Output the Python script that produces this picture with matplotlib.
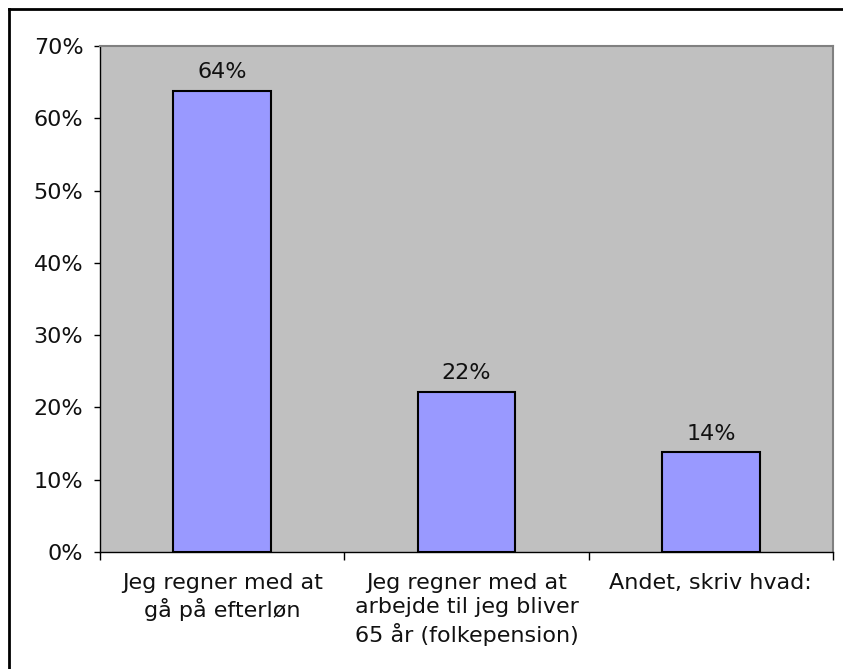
import matplotlib
matplotlib.use("Agg")
import matplotlib.pyplot as plt
from matplotlib.lines import Line2D

categories = ["Jeg regner med at\ngå på efterløn",
              "Jeg regner med at\narbejde til jeg bliver\n65 år (folkepension)",
              "Andet, skriv hvad:"]
values = [0.638, 0.222, 0.138]
labels = ["64%", "22%", "14%"]
yticks = [0, 0.1, 0.2, 0.3, 0.4, 0.5, 0.6, 0.7]
ytick_labels = ["0%", "10%", "20%", "30%", "40%", "50%", "60%", "70%"]

plt.rcParams['font.family'] = ['DejaVu Sans']
FS = 16
W, H = 843, 669
fig = plt.figure(figsize=(W / 100, H / 100), dpi=100)
ax = fig.add_axes([100 / W, 1 - 552 / H, 733 / W, 506 / H])
ax.set_facecolor("#C0C0C0")

x = list(range(len(categories)))
ax.bar(x, values, width=0.4, color="#9999FF", edgecolor="black", linewidth=1.5, zorder=3)
for xi, v, lab in zip(x, values, labels):
    ax.annotate(lab, (xi, v), xytext=(0, 6), textcoords="offset points",
                ha="center", va="bottom", fontsize=FS, color="#111111")

ax.set_xlim(-0.5, 2.5)
ax.set_ylim(0, 0.7)
ax.set_yticks(yticks)
ax.set_yticklabels(ytick_labels, fontsize=FS, color="#111111")
ax.set_xticks([-0.5, 0.5, 1.5, 2.5])
ax.set_xticklabels([])
ax.set_xticks(x, minor=True)
ax.set_xticklabels(categories, minor=True, fontsize=FS, linespacing=1.28, va="top", ha="center", color="#111111")
ax.tick_params(axis="x", which="minor", length=0, pad=15)
ax.tick_params(axis="x", which="major", length=6, width=1, color="black", direction="out")
ax.tick_params(axis="y", length=4, width=1, color="black", pad=8)

for s in ["left", "bottom"]:
    ax.spines[s].set_color("black")
    ax.spines[s].set_linewidth(1)
for s in ["top", "right"]:
    ax.spines[s].set_color("#808080")
    ax.spines[s].set_linewidth(1.5)

# outer chart border (left and top visible)
fig.add_artist(Line2D([9 / W, 9 / W], [0, 1 - 9 / H], transform=fig.transFigure, color="black", linewidth=2))
fig.add_artist(Line2D([9 / W, 1], [1 - 9 / H, 1 - 9 / H], transform=fig.transFigure, color="black", linewidth=2))

fig.savefig("out.png", dpi=100, facecolor="white")
